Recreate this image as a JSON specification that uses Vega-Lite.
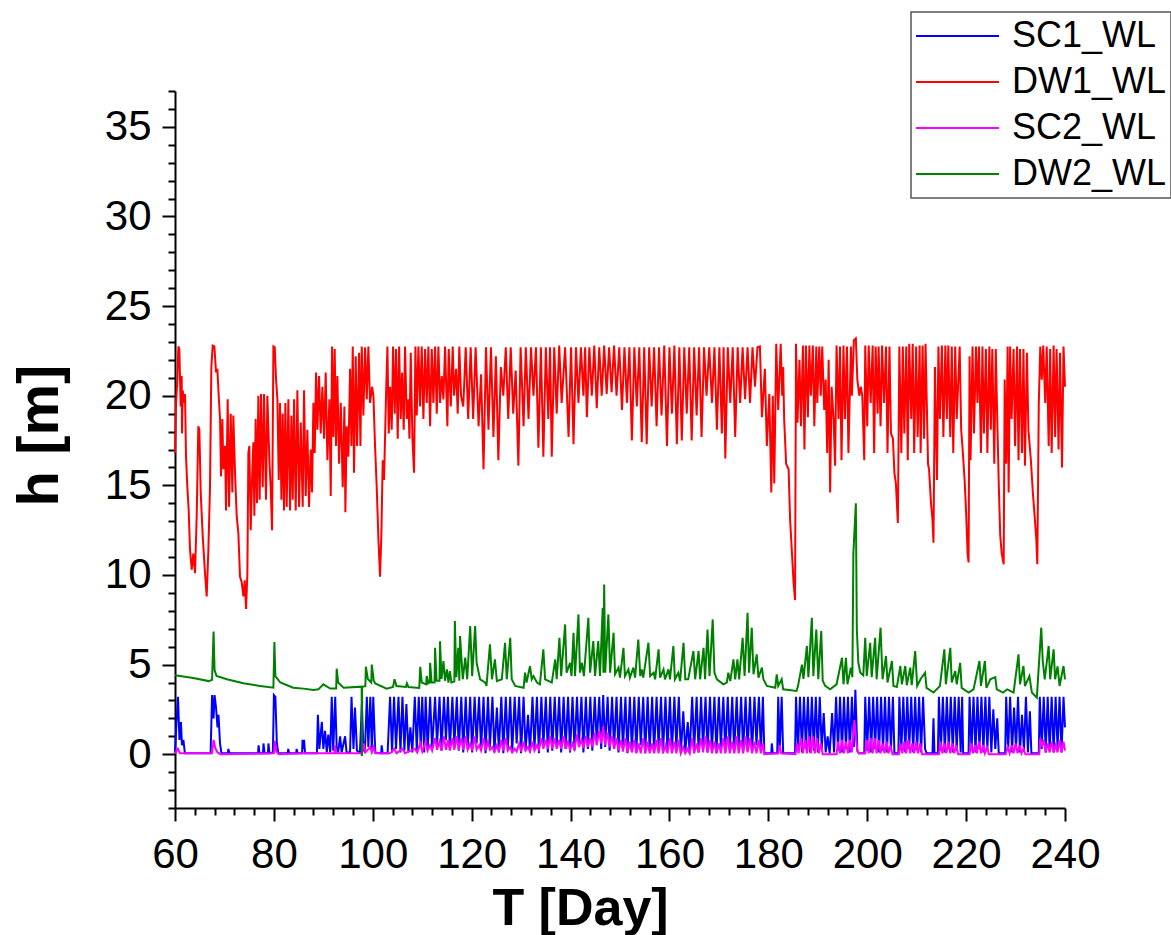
{
"$schema": "https://vega.github.io/schema/vega-lite/v6.json",
"width": 890,
"height": 717,
"autosize": {"type": "none"},
"padding": {"left": 175, "top": 91, "right": 106, "bottom": 127},
"background": "white",
"config": {"view": {"stroke": null}, "font": "Liberation Sans", "legend": {"strokeWidth": 1.5}},
"datasets": {
"SC1": [
{"t":60.0,"h":0.1},{"t":60.3,"h":1.8},{"t":60.6,"h":3.2},{"t":60.9,"h":0.8},{"t":61.2,"h":1.8},{"t":61.4,"h":0.5},{"t":61.7,"h":0.8},{"t":62.0,"h":0.05},{"t":65.0,"h":0.05},{"t":67.2,"h":0.05},{"t":67.5,"h":3.3},{"t":67.8,"h":2.0},{"t":68.0,"h":3.3},{"t":68.3,"h":2.6},{"t":68.6,"h":1.5},{"t":68.8,"h":2.2},{"t":69.1,"h":0.6},{"t":69.4,"h":0.05},{"t":70.7,"h":0.05},{"t":70.8,"h":0.3},{"t":71.0,"h":0.05},{"t":76.8,"h":0.05},{"t":76.9,"h":0.5},{"t":77.1,"h":0.05},{"t":77.8,"h":0.05},{"t":77.9,"h":0.6},{"t":78.1,"h":0.05},{"t":78.8,"h":0.05},{"t":78.9,"h":0.6},{"t":79.1,"h":0.05},{"t":79.8,"h":0.1},{"t":80.0,"h":3.3},{"t":80.3,"h":3.2},{"t":80.6,"h":0.6},{"t":80.9,"h":0.05},{"t":82.8,"h":0.05},{"t":82.9,"h":0.3},{"t":83.1,"h":0.05},{"t":84.5,"h":0.05},{"t":84.6,"h":0.3},{"t":84.8,"h":0.05},{"t":85.7,"h":0.05},{"t":85.8,"h":0.8},{"t":86.0,"h":0.3},{"t":86.1,"h":0.8},{"t":86.3,"h":0.05},{"t":88.7,"h":0.05},{"t":88.9,"h":2.2},{"t":89.2,"h":0.3},{"t":89.7,"h":1.8},{"t":90.0,"h":0.3},{"t":90.35,"h":1.3},{"t":90.7,"h":0.1},{"t":91.0,"h":1.1},{"t":91.4,"h":0.1},{"t":91.7,"h":3.2},{"t":92.0,"h":0.2},{"t":92.4,"h":3.2},{"t":92.7,"h":0.4},{"t":93.0,"h":0.1},{"t":93.4,"h":1.0},{"t":93.7,"h":0.1},{"t":94.4,"h":1.0},{"t":94.7,"h":0.1},{"t":95.4,"h":0.1},{"t":95.7,"h":3.2},{"t":96.1,"h":0.3},{"t":96.4,"h":2.6},{"t":96.8,"h":0.2},{"t":97.4,"h":0.1},{"t":97.8,"h":2.8},{"t":98.1,"h":0.3},{"t":98.4,"h":0.1},{"t":98.8,"h":3.2},{"t":99.1,"h":0.4},{"t":99.5,"h":3.2},{"t":99.8,"h":0.3},{"t":100.1,"h":3.2},{"t":100.5,"h":0.1},{"t":101.7,"h":0.05},{"t":101.8,"h":0.5},{"t":102.0,"h":0.05},{"t":103.0,"h":0.05},
{"t":103.5,"h":3.2},{"t":103.9,"h":0.1},{"t":104.3,"h":3.2},{"t":104.7,"h":0.3},{"t":105.2,"h":3.2},{"t":105.6,"h":0.1},{"t":106.0,"h":3.2},{"t":106.4,"h":0.2},{"t":106.8,"h":2.8},{"t":107.2,"h":0.1},{"t":107.6,"h":1.5},{"t":108.0,"h":0.1},{"t":108.5,"h":3.2},{"t":108.9,"h":0.2},{"t":109.3,"h":3.2},{"t":109.7,"h":0.4},{"t":110.0,"h":3.2},{"t":110.4,"h":0.1},{"t":110.7,"h":3.2},{"t":111.1,"h":0.2},{"t":111.6,"h":3.2},{"t":112.0,"h":0.3},{"t":112.6,"h":3.2},{"t":113.0,"h":0.5},{"t":113.5,"h":3.2},{"t":113.9,"h":0.2},{"t":114.4,"h":3.2},{"t":114.8,"h":0.8},{"t":115.2,"h":3.2},{"t":115.6,"h":0.3},{"t":116.1,"h":3.2},{"t":116.5,"h":0.5},{"t":117.0,"h":3.2},{"t":117.4,"h":0.2},
{"t":117.9,"h":3.2},{"t":118.3,"h":0.1},{"t":118.8,"h":3.2},{"t":119.2,"h":0.3},{"t":119.7,"h":3.2},{"t":120.1,"h":0.1},{"t":120.6,"h":3.2},{"t":121.0,"h":0.6},{"t":121.5,"h":3.2},{"t":121.9,"h":0.2},{"t":122.4,"h":3.2},{"t":122.8,"h":0.05},{"t":123.3,"h":3.2},{"t":123.7,"h":0.4},{"t":124.2,"h":3.2},{"t":124.6,"h":0.1},{"t":125.1,"h":2.6},{"t":125.5,"h":0.2},{"t":126.0,"h":3.2},{"t":126.4,"h":0.05},{"t":126.9,"h":3.2},{"t":127.3,"h":0.3},{"t":127.8,"h":3.2},{"t":128.2,"h":0.1},{"t":128.7,"h":3.2},{"t":129.1,"h":0.6},{"t":129.6,"h":3.2},{"t":130.0,"h":0.05},{"t":130.5,"h":3.2},{"t":130.9,"h":0.2},{"t":131.4,"h":2.2},{"t":131.8,"h":0.1},{"t":132.3,"h":3.2},{"t":132.7,"h":0.3},{"t":133.2,"h":3.2},{"t":133.6,"h":0.05},{"t":134.1,"h":3.2},{"t":134.5,"h":0.4},{"t":135.0,"h":3.2},{"t":135.4,"h":0.1},{"t":135.9,"h":3.2},{"t":136.3,"h":0.2},{"t":136.8,"h":3.2},{"t":137.2,"h":0.5},{"t":137.7,"h":3.2},{"t":138.1,"h":0.1},{"t":138.6,"h":3.2},{"t":139.0,"h":0.3},{"t":139.5,"h":3.2},{"t":139.9,"h":0.1},{"t":140.4,"h":3.2},{"t":140.8,"h":0.2},{"t":141.3,"h":3.2},{"t":141.7,"h":0.5},{"t":142.2,"h":3.2},{"t":142.6,"h":0.1},{"t":143.1,"h":3.2},{"t":143.5,"h":0.3},{"t":144.0,"h":3.2},{"t":144.4,"h":0.2},{"t":144.9,"h":3.2},{"t":145.3,"h":0.6},{"t":145.8,"h":3.2},{"t":146.2,"h":0.3},{"t":146.6,"h":3.3},{"t":147.0,"h":0.4},{"t":147.5,"h":3.2},{"t":147.9,"h":0.2},{"t":148.4,"h":3.2},{"t":148.8,"h":0.3},{"t":149.3,"h":3.2},{"t":149.7,"h":0.1},{"t":150.2,"h":3.2},{"t":150.6,"h":0.3},{"t":151.1,"h":3.2},{"t":151.5,"h":0.05},{"t":152.0,"h":3.2},{"t":152.4,"h":0.2},{"t":152.9,"h":3.2},{"t":153.3,"h":0.1},{"t":153.8,"h":3.2},{"t":154.2,"h":0.5},{"t":154.7,"h":3.2},{"t":155.1,"h":0.05},{"t":155.6,"h":3.2},{"t":156.0,"h":0.2},{"t":156.5,"h":3.2},{"t":156.9,"h":0.1},{"t":157.4,"h":3.2},{"t":157.8,"h":0.4},{"t":158.3,"h":3.2},{"t":158.7,"h":0.05},{"t":159.2,"h":3.2},{"t":159.6,"h":0.2},{"t":160.1,"h":3.2},{"t":160.5,"h":0.1},{"t":161.0,"h":3.2},{"t":161.4,"h":0.3},{"t":161.9,"h":3.2},{"t":162.3,"h":0.05},{"t":162.8,"h":2.4},{"t":163.2,"h":0.1},{"t":163.7,"h":1.8},{"t":164.1,"h":0.05},{"t":164.6,"h":3.2},{"t":165.0,"h":0.2},{"t":165.5,"h":3.2},{"t":165.9,"h":0.1},{"t":166.4,"h":3.2},{"t":166.8,"h":0.3},{"t":167.3,"h":3.2},{"t":167.7,"h":0.1},{"t":168.2,"h":3.2},{"t":168.6,"h":0.2},{"t":169.1,"h":3.2},{"t":169.5,"h":0.05},{"t":170.0,"h":3.2},{"t":170.4,"h":0.4},{"t":170.9,"h":3.2},{"t":171.3,"h":0.1},{"t":171.8,"h":3.2},{"t":172.2,"h":0.2},{"t":172.7,"h":3.2},{"t":173.1,"h":0.1},{"t":173.6,"h":3.2},{"t":174.0,"h":0.3},{"t":174.5,"h":3.2},{"t":174.9,"h":0.1},{"t":175.4,"h":3.2},{"t":175.8,"h":0.2},{"t":176.3,"h":3.2},{"t":176.7,"h":0.1},{"t":177.2,"h":3.2},{"t":177.6,"h":0.5},{"t":178.1,"h":3.2},{"t":178.5,"h":0.1},{"t":178.9,"h":3.2},{"t":179.2,"h":0.05},
{"t":180.6,"h":0.05},{"t":180.7,"h":0.6},{"t":180.9,"h":0.05},{"t":181.8,"h":0.05},{"t":182.0,"h":3.2},{"t":182.3,"h":0.2},{"t":182.7,"h":3.2},{"t":183.0,"h":0.05},{"t":185.4,"h":0.05},
{"t":185.6,"h":3.2},{"t":186.0,"h":0.2},{"t":186.4,"h":3.2},{"t":186.8,"h":0.1},{"t":187.2,"h":3.2},{"t":187.6,"h":0.3},{"t":188.0,"h":3.2},{"t":188.4,"h":0.1},{"t":188.8,"h":3.2},{"t":189.2,"h":0.2},{"t":189.6,"h":3.2},{"t":190.0,"h":0.1},{"t":190.4,"h":3.2},{"t":190.8,"h":0.3},{"t":191.2,"h":2.3},{"t":191.6,"h":0.1},{"t":192.0,"h":1.0},{"t":192.4,"h":0.05},{"t":192.9,"h":2.3},{"t":193.3,"h":0.1},{"t":193.7,"h":3.2},{"t":194.1,"h":0.2},{"t":194.5,"h":3.2},{"t":194.9,"h":0.1},{"t":195.3,"h":3.2},{"t":195.7,"h":0.3},{"t":196.1,"h":3.2},{"t":196.5,"h":0.1},{"t":196.9,"h":3.2},{"t":197.3,"h":0.4},{"t":197.6,"h":3.6},{"t":198.0,"h":0.2},{"t":198.3,"h":0.05},{"t":199.4,"h":0.05},
{"t":199.6,"h":3.2},{"t":200.0,"h":0.2},{"t":200.4,"h":3.2},{"t":200.8,"h":0.1},{"t":201.2,"h":3.2},{"t":201.6,"h":0.3},{"t":202.0,"h":3.2},{"t":202.4,"h":0.1},{"t":202.8,"h":3.2},{"t":203.2,"h":0.2},{"t":203.6,"h":3.2},{"t":204.0,"h":0.1},{"t":204.4,"h":3.2},{"t":204.8,"h":0.3},{"t":205.2,"h":3.2},{"t":205.5,"h":0.05},{"t":206.3,"h":0.05},
{"t":206.5,"h":3.2},{"t":206.9,"h":0.2},{"t":207.3,"h":3.2},{"t":207.7,"h":0.1},{"t":208.1,"h":3.2},{"t":208.5,"h":0.3},{"t":208.9,"h":3.2},{"t":209.3,"h":0.1},{"t":209.7,"h":3.2},{"t":210.1,"h":0.2},{"t":210.5,"h":3.2},{"t":210.9,"h":0.1},{"t":211.3,"h":3.2},{"t":211.7,"h":0.3},{"t":212.0,"h":0.05},{"t":213.2,"h":0.05},{"t":213.4,"h":2.0},{"t":213.6,"h":0.05},{"t":214.3,"h":0.05},
{"t":214.5,"h":3.2},{"t":214.9,"h":0.2},{"t":215.3,"h":3.2},{"t":215.7,"h":0.1},{"t":216.1,"h":3.2},{"t":216.5,"h":0.3},{"t":216.9,"h":3.2},{"t":217.3,"h":0.1},{"t":217.7,"h":3.2},{"t":218.1,"h":0.2},{"t":218.5,"h":3.2},{"t":218.9,"h":0.1},{"t":219.2,"h":3.2},{"t":219.4,"h":0.05},{"t":220.5,"h":0.05},
{"t":220.7,"h":3.2},{"t":221.1,"h":0.2},{"t":221.5,"h":3.2},{"t":221.9,"h":0.1},{"t":222.3,"h":3.2},{"t":222.7,"h":0.3},{"t":223.1,"h":3.2},{"t":223.5,"h":0.1},{"t":223.9,"h":3.2},{"t":224.3,"h":0.2},{"t":224.7,"h":3.2},{"t":225.1,"h":0.1},{"t":225.5,"h":2.5},{"t":225.9,"h":0.3},{"t":226.3,"h":2.0},{"t":226.6,"h":0.05},{"t":227.9,"h":0.05},
{"t":228.1,"h":3.2},{"t":228.5,"h":0.2},{"t":228.9,"h":3.2},{"t":229.3,"h":0.1},{"t":229.7,"h":2.6},{"t":230.1,"h":0.3},{"t":230.5,"h":3.2},{"t":230.9,"h":0.1},{"t":231.3,"h":2.2},{"t":231.7,"h":0.2},{"t":232.1,"h":3.2},{"t":232.5,"h":0.1},{"t":232.9,"h":2.4},{"t":233.2,"h":0.05},{"t":234.7,"h":0.05},
{"t":234.9,"h":3.2},{"t":235.3,"h":0.3},{"t":235.7,"h":3.2},{"t":236.1,"h":0.1},{"t":236.5,"h":3.2},{"t":236.9,"h":0.2},{"t":237.3,"h":3.2},{"t":237.7,"h":0.1},{"t":238.1,"h":3.2},{"t":238.5,"h":0.3},{"t":238.9,"h":3.2},{"t":239.3,"h":0.1},{"t":239.7,"h":3.2},{"t":240.0,"h":1.5}
],
"DW1": [
{"t":60.0,"h":16.8},{"t":60.21,"h":19.6},{"t":60.48,"h":20.9},{"t":60.68,"h":22.75},{"t":60.88,"h":22.6},{"t":61.15,"h":19.4},{"t":61.35,"h":21.1},{"t":61.42,"h":17.9},{"t":61.56,"h":20.3},{"t":61.82,"h":19.6},{"t":62.03,"h":20.1},{"t":62.23,"h":16.6},{"t":62.5,"h":14.9},{"t":62.77,"h":13.6},{"t":63.04,"h":11.4},{"t":63.38,"h":10.3},{"t":63.71,"h":11.2},{"t":64.05,"h":10.1},{"t":64.39,"h":13.3},{"t":64.72,"h":18.3},{"t":64.93,"h":18.1},{"t":65.2,"h":14.6},{"t":65.6,"h":12.2},{"t":66.07,"h":10.1},{"t":66.41,"h":8.8},{"t":66.75,"h":11.4},{"t":67.08,"h":14.9},{"t":67.35,"h":21.6},{"t":67.62,"h":22.8},{"t":67.96,"h":22.75},{"t":68.3,"h":21.3},{"t":68.57,"h":21.5},{"t":68.84,"h":20.0},{"t":69.11,"h":18.7},{"t":69.31,"h":15.5},{"t":69.58,"h":18.7},{"t":69.78,"h":15.9},{"t":70.12,"h":17.2},{"t":70.32,"h":13.6},{"t":70.66,"h":19.8},{"t":70.93,"h":13.8},{"t":71.27,"h":19.0},{"t":71.6,"h":14.6},{"t":71.8,"h":18.9},{"t":72.14,"h":15.7},{"t":72.48,"h":13.3},{"t":72.82,"h":12.3},{"t":73.15,"h":9.9},{"t":73.49,"h":9.6},{"t":73.83,"h":8.8},{"t":74.1,"h":9.7},{"t":74.37,"h":8.1},{"t":74.64,"h":10.1},{"t":74.84,"h":16.8},{"t":75.04,"h":17.2},{"t":75.31,"h":12.5},{"t":75.58,"h":15.3},{"t":75.85,"h":17.4},{"t":76.05,"h":13.3},{"t":76.32,"h":18.7},{"t":76.59,"h":14.0},{"t":76.86,"h":20.0},{"t":77.13,"h":14.2},{"t":77.4,"h":20.1},{"t":77.74,"h":14.9},{"t":78.01,"h":20.1},{"t":78.41,"h":14.2},{"t":78.68,"h":20.0},{"t":79.09,"h":16.4},{"t":79.36,"h":14.8},{"t":79.63,"h":12.5},{"t":79.9,"h":22.75},{"t":80.17,"h":22.7},{"t":80.44,"h":20.9},{"t":80.71,"h":19.8},{"t":80.98,"h":15.3},{"t":81.25,"h":19.6},{"t":81.52,"h":14.2},{"t":81.78,"h":19.0},{"t":82.05,"h":13.6},{"t":82.32,"h":19.6},{"t":82.59,"h":13.8},{"t":82.93,"h":19.8},{"t":83.27,"h":13.6},{"t":83.54,"h":18.9},{"t":83.81,"h":14.2},{"t":84.08,"h":19.8},{"t":84.41,"h":13.6},{"t":84.75,"h":20.3},{"t":85.09,"h":13.8},{"t":85.43,"h":18.5},{"t":85.83,"h":13.8},{"t":86.1,"h":20.3},{"t":86.44,"h":14.4},{"t":86.77,"h":18.1},{"t":87.11,"h":13.8},{"t":87.45,"h":17.0},{"t":87.72,"h":14.6},{"t":87.99,"h":19.6},{"t":88.26,"h":16.8},{"t":88.53,"h":21.3},{"t":88.8,"h":18.1},{"t":89.13,"h":21.1},{"t":89.47,"h":17.9},{"t":89.81,"h":20.5},{"t":90.15,"h":17.6},{"t":90.48,"h":21.3},{"t":90.82,"h":16.4},{"t":91.23,"h":19.8},{"t":91.5,"h":14.4},{"t":91.77,"h":22.75},{"t":92.04,"h":17.7},{"t":92.3,"h":22.6},{"t":92.57,"h":17.2},{"t":92.84,"h":21.1},{"t":93.18,"h":16.2},{"t":93.52,"h":19.6},{"t":93.92,"h":14.9},{"t":94.26,"h":19.4},{"t":94.46,"h":13.5},{"t":94.73,"h":18.3},{"t":95.07,"h":16.6},{"t":95.41,"h":21.5},{"t":95.68,"h":17.2},{"t":95.95,"h":22.75},{"t":96.21,"h":15.7},{"t":96.55,"h":22.2},{"t":96.82,"h":17.2},{"t":97.23,"h":22.4},{"t":97.5,"h":17.2},{"t":97.77,"h":22.75},{"t":98.1,"h":18.9},{"t":98.44,"h":22.7},{"t":98.78,"h":19.8},{"t":99.11,"h":22.75},{"t":99.45,"h":19.6},{"t":99.86,"h":20.5},{"t":100.13,"h":20.0},{"t":100.46,"h":17.2},{"t":100.8,"h":14.9},{"t":101.14,"h":12.0},{"t":101.47,"h":9.9},{"t":101.74,"h":12.3},{"t":102.01,"h":16.4},{"t":102.28,"h":15.3},{"t":102.69,"h":20.1},{"t":102.96,"h":22.75},{"t":103.23,"h":17.9},{"t":103.5,"h":20.5},{"t":103.83,"h":18.1},{"t":104.1,"h":22.75},{"t":104.44,"h":19.0},{"t":104.71,"h":22.6},{"t":105.05,"h":17.6},{"t":105.32,"h":22.75},{"t":105.66,"h":18.7},{"t":105.93,"h":21.3},{"t":106.26,"h":18.1},{"t":106.53,"h":22.75},{"t":106.87,"h":18.7},{"t":107.21,"h":19.8},{"t":107.41,"h":17.6},{"t":107.68,"h":22.4},{"t":108.02,"h":17.6},{"t":108.35,"h":15.7},{"t":108.62,"h":22.75},{"t":108.89,"h":18.9},{"t":109.23,"h":22.75},{"t":109.57,"h":19.4},{"t":109.9,"h":22.75},{"t":110.24,"h":18.7},{"t":110.58,"h":22.6},{"t":110.91,"h":19.6},{"t":111.25,"h":22.75},{"t":111.59,"h":18.3},{"t":111.93,"h":22.6},{"t":112.26,"h":19.6},{"t":112.6,"h":22.75},{"t":112.94,"h":19.0},{"t":113.27,"h":22.75},{"t":113.61,"h":19.6},{"t":113.95,"h":21.1},{"t":114.29,"h":19.8},{"t":114.62,"h":22.75},{"t":115.09,"h":18.3},{"t":115.36,"h":22.6},{"t":115.77,"h":19.4},{"t":116.17,"h":22.75},{"t":116.44,"h":20.0},{"t":116.85,"h":21.5},{"t":117.18,"h":19.0},{"t":117.5,"h":22.75},{"t":117.85,"h":20.0},
{"t":118.3,"h":19.4},{"t":118.8,"h":22.7},{"t":119.3,"h":18.7},{"t":119.8,"h":22.7},{"t":120.3,"h":18.7},{"t":120.8,"h":22.7},{"t":121.4,"h":18.3},{"t":121.9,"h":21.2},{"t":122.4,"h":15.9},{"t":122.9,"h":22.7},{"t":123.4,"h":18.1},{"t":123.9,"h":22.7},{"t":124.4,"h":17.7},{"t":124.9,"h":22.2},{"t":125.4,"h":16.4},{"t":125.9,"h":21.6},{"t":126.4,"h":20.0},{"t":126.9,"h":22.7},{"t":127.4,"h":18.7},{"t":127.9,"h":22.7},{"t":128.4,"h":19.0},{"t":128.9,"h":21.4},{"t":129.45,"h":16.1},{"t":129.9,"h":22.7},{"t":130.5,"h":18.3},{"t":130.95,"h":22.7},{"t":131.5,"h":18.7},{"t":132.0,"h":22.7},{"t":132.5,"h":20.0},{"t":133.0,"h":22.7},{"t":133.5,"h":17.1},{"t":134.0,"h":22.7},{"t":134.5,"h":16.6},{"t":135.0,"h":22.7},{"t":135.5,"h":18.7},{"t":135.85,"h":22.7},{"t":136.2,"h":16.6},{"t":136.7,"h":22.7},{"t":137.2,"h":19.0},{"t":137.7,"h":22.8},{"t":138.2,"h":19.6},{"t":138.9,"h":22.7},{"t":139.6,"h":17.7},{"t":140.1,"h":22.7},{"t":140.6,"h":17.3},{"t":141.1,"h":22.7},{"t":141.6,"h":19.6},{"t":142.1,"h":22.7},{"t":142.6,"h":20.0},{"t":142.95,"h":22.7},{"t":143.3,"h":18.8},{"t":143.8,"h":22.7},{"t":144.3,"h":20.0},{"t":144.8,"h":22.8},{"t":145.3,"h":19.3},{"t":145.8,"h":22.7},{"t":146.3,"h":20.0},{"t":146.8,"h":22.8},{"t":147.3,"h":20.1},{"t":147.8,"h":22.7},{"t":148.3,"h":20.2},{"t":148.8,"h":22.8},{"t":149.3,"h":20.0},{"t":149.85,"h":22.7},{"t":150.4,"h":19.2},{"t":150.9,"h":22.7},{"t":151.4,"h":19.6},{"t":151.9,"h":22.7},{"t":152.4,"h":17.5},{"t":152.9,"h":22.7},{"t":153.4,"h":19.4},{"t":153.9,"h":22.7},{"t":154.4,"h":17.4},{"t":154.9,"h":22.7},{"t":155.4,"h":17.3},{"t":155.9,"h":22.7},{"t":156.4,"h":19.4},{"t":156.9,"h":22.7},{"t":157.4,"h":18.3},{"t":157.9,"h":22.7},{"t":158.4,"h":18.9},{"t":158.95,"h":22.8},{"t":159.5,"h":17.2},{"t":160.0,"h":22.7},{"t":160.5,"h":19.0},{"t":161.0,"h":22.8},{"t":161.5,"h":17.3},{"t":162.0,"h":22.7},{"t":162.5,"h":17.5},{"t":163.0,"h":22.7},{"t":163.5,"h":19.0},{"t":164.0,"h":22.7},{"t":164.5,"h":17.5},{"t":165.0,"h":22.7},{"t":165.5,"h":18.9},{"t":166.0,"h":22.7},{"t":166.5,"h":17.7},{"t":167.0,"h":22.7},{"t":167.5,"h":20.0},{"t":168.05,"h":22.7},{"t":168.6,"h":19.6},{"t":169.1,"h":22.7},{"t":169.6,"h":18.1},{"t":170.1,"h":22.7},{"t":170.6,"h":17.9},{"t":170.95,"h":22.7},{"t":171.3,"h":16.5},{"t":171.8,"h":22.7},{"t":172.3,"h":19.6},{"t":172.8,"h":22.7},{"t":173.3,"h":17.7},{"t":173.8,"h":22.7},{"t":174.3,"h":19.6},{"t":174.8,"h":22.7},{"t":175.3,"h":19.8},{"t":175.8,"h":22.7},{"t":176.3,"h":19.6},{"t":176.8,"h":22.7},{"t":177.3,"h":20.5},{"t":177.8,"h":22.7},
{"t":178.3,"h":22.75},{"t":178.7,"h":18.8},{"t":179.3,"h":21.5},{"t":179.7,"h":17.2},{"t":180.2,"h":20.1},{"t":180.6,"h":14.6},{"t":180.9,"h":20.0},{"t":181.2,"h":15.1},{"t":181.6,"h":22.9},{"t":182.0,"h":19.2},{"t":182.5,"h":22.9},{"t":182.8,"h":20.0},{"t":183.0,"h":21.6},{"t":183.2,"h":18.7},{"t":183.6,"h":16.2},{"t":184.1,"h":15.9},{"t":184.4,"h":13.1},{"t":184.7,"h":11.6},{"t":185.1,"h":9.6},{"t":185.4,"h":8.6},{"t":185.6,"h":22.9},{"t":185.9,"h":18.5},{"t":186.3,"h":22.0},{"t":186.6,"h":18.3},{"t":187.0,"h":22.8},{"t":187.3,"h":17.0},{"t":187.6,"h":22.8},{"t":188.0,"h":18.8},{"t":188.3,"h":22.8},{"t":188.6,"h":20.0},{"t":189.0,"h":22.8},{"t":189.3,"h":18.3},{"t":189.7,"h":22.75},{"t":189.9,"h":19.6},{"t":190.3,"h":22.75},{"t":190.6,"h":20.0},{"t":190.9,"h":22.75},{"t":191.3,"h":19.2},{"t":191.6,"h":20.9},{"t":191.9,"h":16.8},{"t":192.2,"h":22.0},{"t":192.5,"h":14.6},{"t":192.8,"h":20.5},{"t":193.2,"h":18.7},{"t":193.5,"h":16.1},{"t":193.8,"h":22.8},{"t":194.2,"h":18.7},{"t":194.5,"h":22.75},{"t":194.8,"h":16.4},{"t":195.2,"h":22.8},{"t":195.5,"h":18.7},{"t":195.9,"h":22.75},{"t":196.2,"h":16.8},{"t":196.7,"h":22.75},{"t":196.9,"h":20.0},{"t":197.3,"h":23.1},{"t":197.7,"h":23.2},{"t":198.0,"h":20.9},{"t":198.4,"h":20.0},{"t":198.7,"h":20.5},{"t":199.0,"h":20.0},{"t":199.4,"h":16.4},{"t":199.6,"h":22.8},{"t":200.0,"h":18.3},{"t":200.3,"h":22.8},{"t":200.7,"h":19.6},{"t":201.1,"h":22.8},{"t":201.4,"h":16.8},{"t":201.7,"h":22.75},{"t":202.1,"h":19.0},{"t":202.3,"h":22.75},{"t":202.7,"h":18.3},{"t":203.0,"h":22.8},{"t":203.4,"h":19.6},{"t":203.8,"h":22.75},{"t":204.1,"h":16.8},{"t":204.5,"h":22.75},{"t":204.8,"h":17.9},{"t":205.2,"h":17.6},{"t":205.5,"h":15.7},{"t":205.8,"h":15.1},{"t":206.2,"h":12.9},{"t":206.5,"h":22.75},{"t":206.9,"h":16.8},{"t":207.2,"h":22.75},{"t":207.5,"h":17.9},{"t":207.9,"h":22.75},{"t":208.2,"h":16.4},{"t":208.5,"h":22.9},{"t":208.9,"h":18.7},{"t":209.2,"h":22.9},{"t":209.5,"h":16.8},{"t":209.9,"h":22.75},{"t":210.2,"h":17.7},{"t":210.6,"h":22.8},{"t":210.8,"h":16.8},{"t":211.2,"h":22.8},{"t":211.5,"h":17.6},{"t":211.8,"h":22.9},{"t":212.3,"h":16.2},{"t":212.5,"h":15.9},{"t":212.9,"h":14.0},{"t":213.2,"h":13.1},{"t":213.4,"h":11.8},{"t":213.7,"h":21.6},{"t":214.1,"h":15.3},{"t":214.4,"h":22.75},{"t":214.7,"h":18.7},{"t":215.1,"h":22.8},{"t":215.4,"h":17.7},{"t":215.8,"h":22.8},{"t":216.1,"h":18.7},{"t":216.4,"h":22.8},{"t":216.8,"h":17.7},{"t":217.1,"h":22.75},{"t":217.4,"h":16.8},{"t":217.8,"h":22.75},{"t":218.1,"h":18.7},{"t":218.7,"h":22.75},{"t":219.0,"h":18.1},{"t":219.3,"h":17.0},{"t":219.7,"h":15.3},{"t":220.0,"h":13.5},{"t":220.3,"h":11.2},{"t":220.5,"h":10.7},{"t":220.7,"h":22.2},{"t":220.9,"h":16.4},{"t":221.3,"h":22.75},{"t":221.6,"h":17.9},{"t":222.0,"h":22.75},{"t":222.3,"h":19.6},{"t":222.6,"h":22.75},{"t":223.0,"h":16.8},{"t":223.3,"h":22.75},{"t":223.6,"h":17.9},{"t":224.0,"h":22.6},{"t":224.3,"h":16.8},{"t":224.7,"h":22.75},{"t":225.0,"h":18.1},{"t":225.3,"h":22.6},{"t":225.7,"h":16.2},{"t":226.0,"h":22.6},{"t":226.3,"h":18.7},{"t":226.6,"h":15.1},{"t":226.9,"h":12.2},{"t":227.2,"h":11.2},{"t":227.6,"h":10.6},{"t":227.8,"h":20.9},{"t":228.1,"h":16.2},{"t":228.4,"h":22.75},{"t":228.6,"h":14.6},{"t":228.9,"h":22.75},{"t":229.2,"h":18.7},{"t":229.6,"h":22.6},{"t":229.9,"h":17.2},{"t":230.3,"h":22.75},{"t":230.6,"h":16.4},{"t":230.9,"h":22.6},{"t":231.3,"h":16.8},{"t":231.6,"h":22.6},{"t":231.9,"h":16.1},{"t":232.3,"h":22.4},{"t":232.6,"h":18.1},{"t":233.1,"h":16.4},{"t":233.5,"h":14.6},{"t":233.8,"h":13.5},{"t":234.2,"h":12.0},{"t":234.4,"h":10.6},{"t":234.7,"h":19.6},{"t":235.0,"h":22.75},{"t":235.3,"h":20.9},{"t":235.6,"h":22.8},{"t":236.0,"h":19.6},{"t":236.3,"h":22.75},{"t":236.7,"h":17.2},{"t":237.0,"h":22.6},{"t":237.3,"h":16.8},{"t":237.7,"h":22.8},{"t":238.0,"h":17.7},{"t":238.3,"h":22.6},{"t":238.7,"h":17.0},{"t":239.0,"h":22.4},{"t":239.4,"h":16.0},{"t":239.7,"h":22.75},{"t":240.0,"h":20.5}
],
"SC2": [
{"t":60.0,"h":0.05},{"t":60.6,"h":0.3},{"t":61.0,"h":0.05},{"t":67.5,"h":0.05},{"t":67.8,"h":0.8},{"t":68.2,"h":0.3},{"t":68.6,"h":0.1},{"t":69.2,"h":0.0},{"t":80.0,"h":0.05},{"t":80.2,"h":0.75},{"t":80.5,"h":0.15},{"t":81.0,"h":0.0},{"t":86.0,"h":0.05},{"t":92.2,"h":0.05},{"t":92.4,"h":0.5},{"t":92.6,"h":0.05},{"t":97.8,"h":0.05},{"t":98.2,"h":0.6},{"t":98.5,"h":0.1},{"t":99.5,"h":0.4},{"t":99.8,"h":0.1},{"t":100.2,"h":0.4},{"t":100.5,"h":0.05},{"t":103.5,"h":0.05},{"t":104.3,"h":0.3},{"t":104.8,"h":0.05},{"t":106.0,"h":0.3},{"t":106.5,"h":0.05},{"t":108.5,"h":0.3},{"t":109.0,"h":0.1},{"t":109.6,"h":0.6},{"t":110.0,"h":0.15},{"t":110.7,"h":0.7},{"t":111.1,"h":0.2},{"t":111.6,"h":0.5},{"t":112.0,"h":0.2},{"t":112.6,"h":0.9},{"t":113.0,"h":0.25},{"t":113.5,"h":0.7},{"t":113.9,"h":0.2},{"t":114.4,"h":1.0},{"t":114.8,"h":0.25},{"t":115.2,"h":0.8},{"t":115.6,"h":0.2},{"t":116.1,"h":0.9},{"t":116.5,"h":0.25},{"t":117.0,"h":1.0},{"t":117.4,"h":0.25},
{"t":117.9,"h":0.9},{"t":118.3,"h":0.25},{"t":118.8,"h":1.0},{"t":119.2,"h":0.25},{"t":119.7,"h":0.6},{"t":120.1,"h":0.2},{"t":120.6,"h":1.0},{"t":121.0,"h":0.25},{"t":121.5,"h":0.5},{"t":121.9,"h":0.2},{"t":122.4,"h":0.9},{"t":122.8,"h":0.2},{"t":123.3,"h":0.7},{"t":123.7,"h":0.25},{"t":124.2,"h":0.4},{"t":124.6,"h":0.15},{"t":125.1,"h":0.5},{"t":125.5,"h":0.1},{"t":126.0,"h":0.8},{"t":126.4,"h":0.2},{"t":126.9,"h":0.9},{"t":127.3,"h":0.2},{"t":127.8,"h":0.4},{"t":128.2,"h":0.1},{"t":128.7,"h":0.3},{"t":129.1,"h":0.15},{"t":129.6,"h":0.6},{"t":130.0,"h":0.15},{"t":130.5,"h":0.7},{"t":130.9,"h":0.2},{"t":131.4,"h":0.4},{"t":131.8,"h":0.15},{"t":132.3,"h":0.7},{"t":132.7,"h":0.2},{"t":133.2,"h":0.5},{"t":133.6,"h":0.25},{"t":134.1,"h":0.9},{"t":134.5,"h":0.3},{"t":135.0,"h":0.8},{"t":135.4,"h":0.3},{"t":135.9,"h":1.0},{"t":136.3,"h":0.3},{"t":136.8,"h":0.9},{"t":137.2,"h":0.3},{"t":137.7,"h":0.8},{"t":138.1,"h":0.3},{"t":138.6,"h":1.0},{"t":139.0,"h":0.3},{"t":139.5,"h":0.7},{"t":139.9,"h":0.25},{"t":140.4,"h":0.6},{"t":140.8,"h":0.3},{"t":141.3,"h":1.1},{"t":141.7,"h":0.4},{"t":142.2,"h":0.8},{"t":142.6,"h":0.35},{"t":143.1,"h":1.0},{"t":143.5,"h":0.4},{"t":144.0,"h":0.9},{"t":144.4,"h":0.4},{"t":144.9,"h":1.2},{"t":145.3,"h":0.5},{"t":145.8,"h":1.3},{"t":146.2,"h":0.6},{"t":146.6,"h":1.55},{"t":147.0,"h":0.5},{"t":147.5,"h":1.2},{"t":147.9,"h":0.4},{"t":148.4,"h":1.0},{"t":148.8,"h":0.3},{"t":149.3,"h":0.9},{"t":149.7,"h":0.2},{"t":150.2,"h":0.8},{"t":150.6,"h":0.15},{"t":151.1,"h":0.9},{"t":151.5,"h":0.1},{"t":152.0,"h":0.7},{"t":152.4,"h":0.1},{"t":152.9,"h":0.8},{"t":153.3,"h":0.05},{"t":153.8,"h":0.6},{"t":154.2,"h":0.05},{"t":154.7,"h":0.9},{"t":155.1,"h":0.05},{"t":155.6,"h":0.7},{"t":156.0,"h":0.05},{"t":156.5,"h":0.6},{"t":156.9,"h":0.05},{"t":157.4,"h":0.8},{"t":157.8,"h":0.05},{"t":158.3,"h":0.9},{"t":158.7,"h":0.05},{"t":159.2,"h":0.5},{"t":159.6,"h":0.05},{"t":160.1,"h":0.9},{"t":160.5,"h":0.05},{"t":161.0,"h":0.7},{"t":161.4,"h":0.05},{"t":161.9,"h":0.8},{"t":162.3,"h":0.05},{"t":162.8,"h":0.4},{"t":163.2,"h":0.05},{"t":163.7,"h":0.3},{"t":164.1,"h":0.05},{"t":164.6,"h":0.9},{"t":165.0,"h":0.05},{"t":165.5,"h":0.6},{"t":165.9,"h":0.1},{"t":166.4,"h":0.9},{"t":166.8,"h":0.1},{"t":167.3,"h":1.0},{"t":167.7,"h":0.1},{"t":168.2,"h":0.8},{"t":168.6,"h":0.05},{"t":169.1,"h":0.7},{"t":169.5,"h":0.05},{"t":170.0,"h":0.6},{"t":170.4,"h":0.05},{"t":170.9,"h":0.9},{"t":171.3,"h":0.05},{"t":171.8,"h":1.0},{"t":172.2,"h":0.05},{"t":172.7,"h":0.7},{"t":173.1,"h":0.05},{"t":173.6,"h":1.0},{"t":174.0,"h":0.05},{"t":174.5,"h":0.8},{"t":174.9,"h":0.05},{"t":175.4,"h":1.0},{"t":175.8,"h":0.1},{"t":176.3,"h":0.9},{"t":176.7,"h":0.05},{"t":177.2,"h":0.7},{"t":177.6,"h":0.05},{"t":178.1,"h":0.8},{"t":178.5,"h":0.05},{"t":178.9,"h":0.6},{"t":179.2,"h":0.0},{"t":182.0,"h":0.05},{"t":182.3,"h":0.5},{"t":182.6,"h":0.05},{"t":185.5,"h":0.0},
{"t":185.8,"h":0.6},{"t":186.1,"h":0.05},{"t":186.6,"h":0.9},{"t":187.0,"h":0.05},{"t":187.4,"h":0.8},{"t":187.8,"h":0.05},{"t":188.2,"h":1.0},{"t":188.6,"h":0.05},{"t":189.0,"h":1.0},{"t":189.4,"h":0.05},{"t":189.8,"h":0.9},{"t":190.2,"h":0.05},{"t":190.6,"h":0.6},{"t":191.0,"h":0.0},{"t":193.8,"h":0.0},{"t":194.1,"h":0.7},{"t":194.5,"h":0.05},{"t":194.9,"h":0.8},{"t":195.3,"h":0.05},{"t":195.7,"h":0.7},{"t":196.1,"h":0.05},{"t":196.5,"h":0.8},{"t":196.9,"h":0.1},{"t":197.4,"h":1.9},{"t":197.7,"h":1.0},{"t":198.0,"h":0.2},{"t":198.3,"h":0.05},{"t":199.6,"h":0.05},{"t":199.9,"h":0.8},{"t":200.3,"h":0.05},{"t":200.7,"h":0.9},{"t":201.1,"h":0.05},{"t":201.5,"h":0.9},{"t":201.9,"h":0.05},{"t":202.3,"h":0.8},{"t":202.7,"h":0.05},{"t":203.1,"h":0.6},{"t":203.5,"h":0.05},{"t":203.9,"h":0.7},{"t":204.3,"h":0.05},{"t":204.7,"h":0.5},{"t":205.1,"h":0.0},{"t":206.4,"h":0.0},{"t":206.7,"h":0.6},{"t":207.1,"h":0.05},{"t":207.5,"h":0.7},{"t":207.9,"h":0.05},{"t":208.3,"h":0.8},{"t":208.7,"h":0.05},{"t":209.1,"h":0.6},{"t":209.5,"h":0.05},{"t":209.9,"h":0.7},{"t":210.3,"h":0.05},{"t":210.7,"h":0.6},{"t":211.1,"h":0.0},{"t":214.5,"h":0.0},{"t":214.8,"h":0.7},{"t":215.2,"h":0.05},{"t":215.6,"h":0.6},{"t":216.0,"h":0.05},{"t":216.4,"h":0.7},{"t":216.8,"h":0.05},{"t":217.2,"h":0.6},{"t":217.6,"h":0.05},{"t":218.0,"h":0.5},{"t":218.4,"h":0.0},{"t":220.7,"h":0.0},{"t":221.0,"h":0.6},{"t":221.4,"h":0.05},{"t":221.8,"h":0.5},{"t":222.2,"h":0.05},{"t":222.6,"h":0.7},{"t":223.0,"h":0.05},{"t":223.4,"h":0.5},{"t":223.8,"h":0.05},{"t":224.2,"h":0.4},{"t":224.6,"h":0.0},{"t":228.0,"h":0.0},{"t":228.4,"h":0.4},{"t":228.8,"h":0.05},{"t":229.2,"h":0.5},{"t":229.6,"h":0.05},{"t":230.0,"h":0.6},{"t":230.4,"h":0.05},{"t":230.8,"h":0.5},{"t":231.2,"h":0.05},{"t":231.6,"h":0.3},{"t":232.0,"h":0.0},{"t":234.8,"h":0.0},{"t":235.0,"h":0.9},{"t":235.3,"h":0.4},{"t":235.7,"h":0.8},{"t":236.1,"h":0.1},{"t":236.5,"h":0.6},{"t":236.9,"h":0.1},{"t":237.3,"h":0.7},{"t":237.7,"h":0.1},{"t":238.1,"h":0.5},{"t":238.5,"h":0.1},{"t":238.9,"h":0.8},{"t":239.3,"h":0.1},{"t":239.7,"h":0.7},{"t":240.0,"h":0.2}
],
"DW2": [
{"t":60.0,"h":4.4},{"t":63.7,"h":4.25},{"t":66.8,"h":4.08},{"t":67.5,"h":4.15},{"t":67.8,"h":6.85},{"t":68.0,"h":4.7},{"t":68.4,"h":4.36},{"t":70.5,"h":4.18},{"t":73.8,"h":3.96},{"t":77.2,"h":3.81},{"t":79.9,"h":3.71},{"t":80.1,"h":6.26},{"t":80.3,"h":4.36},{"t":81.3,"h":4.0},{"t":83.9,"h":3.71},{"t":86.0,"h":3.66},{"t":88.0,"h":3.58},{"t":89.0,"h":3.62},{"t":90.0,"h":3.9},{"t":91.4,"h":3.66},{"t":92.6,"h":3.66},{"t":92.7,"h":4.77},{"t":93.0,"h":4.0},{"t":94.1,"h":3.71},{"t":97.75,"h":3.77},{"t":97.8,"h":-0.1},{"t":97.85,"h":3.75},{"t":98.5,"h":3.8},{"t":98.6,"h":4.88},{"t":99.0,"h":4.2},{"t":99.7,"h":4.0},{"t":99.8,"h":5.0},{"t":100.2,"h":4.1},{"t":100.5,"h":3.95},{"t":102.8,"h":3.66},{"t":104.1,"h":3.75},{"t":104.4,"h":4.18},{"t":104.8,"h":3.8},{"t":106.7,"h":3.75},{"t":106.9,"h":3.95},{"t":107.2,"h":3.75},{"t":109.4,"h":3.7},{"t":109.6,"h":4.88},{"t":109.9,"h":4.0},{"t":110.8,"h":3.9},{"t":110.9,"h":4.36},{"t":111.2,"h":3.95},{"t":111.5,"h":4.0},{"t":111.6,"h":5.1},{"t":111.9,"h":4.0},{"t":112.5,"h":4.0},{"t":112.6,"h":5.94},{"t":112.9,"h":4.1},{"t":113.5,"h":4.1},{"t":113.6,"h":6.3},{"t":113.9,"h":4.2},{"t":114.3,"h":5.2},{"t":114.6,"h":4.1},{"t":115.0,"h":4.73},{"t":115.3,"h":4.0},{"t":115.6,"h":4.64},{"t":115.9,"h":4.0},{"t":116.5,"h":4.05},{"t":116.6,"h":7.43},{"t":116.9,"h":4.3},{"t":117.3,"h":5.94},{"t":117.5,"h":4.1},
{"t":117.65,"h":6.59},{"t":118.2,"h":4.18},{"t":118.7,"h":5.39},{"t":119.1,"h":4.18},{"t":119.7,"h":7.15},{"t":120.1,"h":4.36},{"t":120.7,"h":7.15},{"t":121.0,"h":5.1},{"t":121.7,"h":4.18},{"t":122.7,"h":4.0},{"t":123.0,"h":3.81},{"t":123.7,"h":6.13},{"t":124.1,"h":4.18},{"t":124.7,"h":5.29},{"t":125.1,"h":4.08},{"t":126.1,"h":4.18},{"t":126.75,"h":6.22},{"t":127.1,"h":4.18},{"t":127.8,"h":6.5},{"t":128.1,"h":4.18},{"t":128.8,"h":3.81},{"t":130.5,"h":3.71},{"t":130.8,"h":4.55},{"t":131.1,"h":4.0},{"t":131.8,"h":4.92},{"t":132.15,"h":4.18},{"t":132.5,"h":4.36},{"t":133.2,"h":4.0},{"t":133.8,"h":3.9},{"t":134.5,"h":5.85},{"t":134.85,"h":4.18},{"t":136.2,"h":4.0},{"t":136.9,"h":5.29},{"t":137.2,"h":4.18},{"t":137.75,"h":6.5},{"t":138.1,"h":4.36},{"t":138.9,"h":7.24},{"t":139.2,"h":4.55},{"t":139.9,"h":5.1},{"t":140.2,"h":4.36},{"t":140.6,"h":6.78},{"t":140.9,"h":4.36},{"t":141.6,"h":7.8},{"t":141.9,"h":4.55},{"t":142.3,"h":5.1},{"t":142.7,"h":4.36},{"t":143.6,"h":7.61},{"t":143.95,"h":4.55},{"t":144.6,"h":6.31},{"t":144.95,"h":4.36},{"t":145.6,"h":6.31},{"t":145.95,"h":4.36},{"t":146.5,"h":8.17},{"t":146.65,"h":4.55},{"t":146.8,"h":9.47},{"t":147.0,"h":4.55},{"t":147.65,"h":7.8},{"t":148.0,"h":4.55},{"t":148.7,"h":6.78},{"t":149.0,"h":4.46},{"t":149.7,"h":4.83},{"t":150.0,"h":4.27},{"t":150.7,"h":5.94},{"t":151.0,"h":4.36},{"t":151.7,"h":4.73},{"t":152.0,"h":4.27},{"t":152.7,"h":4.83},{"t":153.05,"h":4.27},{"t":153.7,"h":6.4},{"t":154.1,"h":4.36},{"t":154.4,"h":4.73},{"t":154.7,"h":4.27},{"t":155.75,"h":6.22},{"t":156.1,"h":4.36},{"t":156.8,"h":4.55},{"t":157.1,"h":4.18},{"t":157.8,"h":5.85},{"t":158.1,"h":4.27},{"t":158.8,"h":4.73},{"t":159.1,"h":4.18},{"t":159.8,"h":4.73},{"t":160.1,"h":4.18},{"t":160.8,"h":6.04},{"t":161.1,"h":4.18},{"t":161.8,"h":4.55},{"t":162.15,"h":4.08},{"t":162.85,"h":6.22},{"t":163.2,"h":4.18},{"t":163.8,"h":4.18},{"t":164.85,"h":5.76},{"t":165.2,"h":4.18},{"t":165.9,"h":5.76},{"t":166.2,"h":4.18},{"t":166.9,"h":5.94},{"t":167.2,"h":4.18},{"t":167.7,"h":6.96},{"t":168.1,"h":4.36},{"t":168.75,"h":7.52},{"t":169.1,"h":4.55},{"t":169.6,"h":4.18},{"t":170.9,"h":3.9},{"t":171.6,"h":4.0},{"t":171.9,"h":4.55},{"t":172.3,"h":4.08},{"t":172.95,"h":5.29},{"t":173.3,"h":4.18},{"t":173.75,"h":5.29},{"t":174.1,"h":4.18},{"t":174.8,"h":6.5},{"t":175.2,"h":4.36},{"t":175.8,"h":7.89},{"t":176.1,"h":4.55},{"t":176.65,"h":7.06},{"t":177.0,"h":4.46},{"t":177.65,"h":5.57},{"t":178.0,"h":4.27},{"t":178.7,"h":4.83},{"t":179.0,"h":4.18},{"t":179.7,"h":3.81},{"t":181.4,"h":3.71},{"t":181.7,"h":4.46},{"t":182.0,"h":3.81},
{"t":182.7,"h":4.18},{"t":183.0,"h":3.62},{"t":185.0,"h":3.55},{"t":185.7,"h":3.53},{"t":186.0,"h":3.8},{"t":186.8,"h":5.0},{"t":187.1,"h":4.2},{"t":187.8,"h":6.04},{"t":188.1,"h":4.3},{"t":188.8,"h":7.61},{"t":189.1,"h":4.36},{"t":189.7,"h":6.96},{"t":190.1,"h":4.18},{"t":190.7,"h":6.87},{"t":191.0,"h":4.1},{"t":191.5,"h":3.81},{"t":192.5,"h":3.62},{"t":193.8,"h":3.9},{"t":194.9,"h":5.38},{"t":195.2,"h":3.9},{"t":195.7,"h":5.38},{"t":196.0,"h":3.9},{"t":196.7,"h":4.83},{"t":197.0,"h":4.3},{"t":197.2,"h":11.2},{"t":197.7,"h":14.0},{"t":197.9,"h":6.96},{"t":198.2,"h":5.1},{"t":198.6,"h":4.55},{"t":199.2,"h":4.4},{"t":199.6,"h":6.5},{"t":199.9,"h":4.36},{"t":200.6,"h":6.22},{"t":200.9,"h":4.3},{"t":201.6,"h":6.5},{"t":201.9,"h":4.18},{"t":202.7,"h":7.06},{"t":203.1,"h":4.18},{"t":203.8,"h":5.48},{"t":204.1,"h":4.0},{"t":205.0,"h":5.2},{"t":205.3,"h":3.81},{"t":206.0,"h":3.75},{"t":206.7,"h":4.92},{"t":207.0,"h":3.9},{"t":207.7,"h":4.92},{"t":208.0,"h":3.85},{"t":208.7,"h":4.83},{"t":209.0,"h":3.85},{"t":209.7,"h":5.76},{"t":210.1,"h":3.81},{"t":210.8,"h":4.2},{"t":211.7,"h":4.55},{"t":212.0,"h":3.7},{"t":213.4,"h":3.44},{"t":214.7,"h":3.8},{"t":215.6,"h":5.85},{"t":215.9,"h":3.9},{"t":216.8,"h":5.94},{"t":217.1,"h":4.0},{"t":217.8,"h":4.64},{"t":218.1,"h":3.9},{"t":218.8,"h":5.1},{"t":219.1,"h":3.7},{"t":220.5,"h":3.44},{"t":221.5,"h":3.62},{"t":222.7,"h":5.2},{"t":223.0,"h":3.81},{"t":223.8,"h":5.2},{"t":224.1,"h":3.7},{"t":224.9,"h":4.18},{"t":225.9,"h":4.3},{"t":226.2,"h":3.62},{"t":227.5,"h":3.44},{"t":228.3,"h":3.62},{"t":229.6,"h":3.44},{"t":230.6,"h":5.57},{"t":230.9,"h":3.9},{"t":231.6,"h":4.92},{"t":231.9,"h":3.8},{"t":232.8,"h":4.36},{"t":233.3,"h":3.44},{"t":234.3,"h":3.16},{"t":235.2,"h":7.06},{"t":235.5,"h":5.2},{"t":235.9,"h":4.18},{"t":236.7,"h":6.04},{"t":237.0,"h":4.18},{"t":237.7,"h":5.85},{"t":238.0,"h":4.18},{"t":238.5,"h":4.9},{"t":238.9,"h":3.81},{"t":239.7,"h":4.92},{"t":240.0,"h":4.18}
]
},
"encoding": {
"x": {"field": "t", "type": "quantitative",
 "scale": {"domain": [60, 240], "nice": false, "zero": false},
 "axis": {"title": "T [Day]", "values": [60,64,68,72,76,80,84,88,92,96,100,104,108,112,116,120,124,128,132,136,140,144,148,152,156,160,164,168,172,176,180,184,188,192,196,200,204,208,212,216,220,224,228,232,236,240],
  "labelExpr": "datum.value % 20 === 0 ? datum.label : ''", "format": "d",
  "tickSize": {"condition": {"test": "datum.value % 20 === 0", "value": 13}, "value": 7},
  "tickWidth": 2, "tickColor": "black", "domainColor": "black", "domainWidth": 2,
  "labelFont": "Liberation Sans", "labelFontSize": 42, "labelColor": "black", "labelPadding": 13, "labelOverlap": false, "labelFlush": false,
  "grid": false,
  "titleFont": "Liberation Sans", "titleFontSize": 52, "titleFontWeight": "bold", "titleColor": "black",
  "titleX": 405, "titleY": 116, "titleAlign": "center", "titleBaseline": "alphabetic", "titleAnchor": "start"}},
"y": {"field": "h", "type": "quantitative",
 "scale": {"domain": [-3, 37], "nice": false, "zero": false},
 "axis": {"title": "h [m]", "values": [-3,-2,-1,0,1,2,3,4,5,6,7,8,9,10,11,12,13,14,15,16,17,18,19,20,21,22,23,24,25,26,27,28,29,30,31,32,33,34,35,36,37],
  "labelExpr": "(datum.value % 5 === 0 && datum.value >= 0 && datum.value <= 35) ? datum.label : ''", "format": "d",
  "tickSize": {"condition": {"test": "datum.value % 5 === 0", "value": 13}, "value": 7},
  "tickWidth": 2, "tickColor": "black", "domainColor": "black", "domainWidth": 2,
  "labelFont": "Liberation Sans", "labelFontSize": 42, "labelColor": "black", "labelPadding": 11, "labelOverlap": false, "labelFlush": false,
  "grid": false,
  "titleFont": "Liberation Sans", "titleFontSize": 58, "titleFontWeight": "bold", "titleColor": "black",
  "titleX": -118, "titleY": 344, "titleAngle": -90, "titleAlign": "center", "titleBaseline": "alphabetic", "titleAnchor": "start"}}
},
"layer": [
{"data": {"name": "SC1"}, "mark": {"type": "line", "strokeWidth": 2},
 "encoding": {"color": {"datum": "SC1_WL", "type": "nominal",
  "scale": {"domain": ["SC1_WL","DW1_WL","SC2_WL","DW2_WL"], "range": ["#0000FF","#FF0000","#FF00FF","#008000"]},
  "legend": {"orient": "none", "legendX": 736, "legendY": -79, "title": null, "symbolType": "stroke", "symbolSize": 6889, "symbolStrokeWidth": 2, "labelFont": "Liberation Sans", "labelFontSize": 36, "labelColor": "black", "labelOffset": 12, "clipHeight": 40, "rowPadding": 6, "padding": 4, "strokeColor": "#555555", "fillColor": "white"}}}},
{"data": {"name": "DW1"}, "mark": {"type": "line", "strokeWidth": 2},
 "encoding": {"color": {"datum": "DW1_WL", "type": "nominal"}}},
{"data": {"name": "SC2"}, "mark": {"type": "line", "strokeWidth": 2},
 "encoding": {"color": {"datum": "SC2_WL", "type": "nominal"}}},
{"data": {"name": "DW2"}, "mark": {"type": "line", "strokeWidth": 2},
 "encoding": {"color": {"datum": "DW2_WL", "type": "nominal"}}}
]
}
